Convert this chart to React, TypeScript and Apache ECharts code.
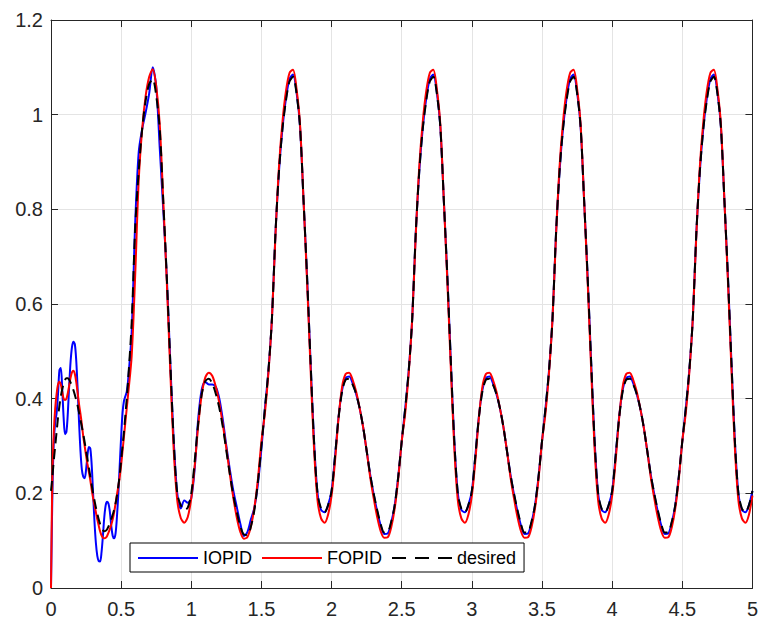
import React, { useEffect, useRef } from "react";
import * as echarts from "echarts";

// Sample grid: fine for the start-up transient, coarser afterwards
const fineTime = Array.from({ length: 56 }, (_, i) => i / 100); // 0 .. 0.55
const coarseTime = Array.from({ length: 178 }, (_, i) => (575 + i * 25) / 1000); // 0.575 .. 5
const time = [...fineTime, ...coarseTime];

const xTicks = [0, 0.5, 1, 1.5, 2, 2.5, 3, 3.5, 4, 4.5, 5];
const yTicks = [0, 0.2, 0.4, 0.6, 0.8, 1, 1.2];
const seriesNames = ["IOPID", "FOPID", "desired"];

// ---- IOPID (blue) ----
const iopidStart = [
  0, 0.2, 0.31, 0.35, 0.37, 0.41, 0.46, 0.465, 0.42, 0.36,
  0.325, 0.33, 0.37, 0.43, 0.48, 0.51, 0.52, 0.515, 0.48, 0.42,
  0.35, 0.29, 0.25, 0.235, 0.232, 0.25, 0.28, 0.298, 0.295, 0.26,
  0.2, 0.14, 0.095, 0.068, 0.057, 0.056, 0.075, 0.11, 0.15, 0.175,
  0.182, 0.178, 0.16, 0.13, 0.11, 0.105, 0.115, 0.15, 0.2, 0.26,
  0.32, 0.37, 0.395, 0.405, 0.415, 0.44,
];
const iopidCycle1 = [
  0.54, 0.77, 0.92, 0.97, 1.005, 1.045, 1.1, 1.06, 0.93, 0.8,
  0.66, 0.48, 0.31, 0.2, 0.168, 0.185, 0.18, 0.19, 0.255, 0.36,
  0.42, 0.435, 0.43, 0.43, 0.425, 0.4, 0.355, 0.3, 0.25, 0.205,
  0.17, 0.135, 0.11, 0.118, 0.145, 0.17, 0.22, 0.295,
];
const iopidCycle2 = [
  0.38, 0.46, 0.57, 0.75, 0.88, 0.972, 1.035, 1.075, 1.085, 1.048,
  0.975, 0.82, 0.66, 0.48, 0.31, 0.2, 0.165, 0.16, 0.175, 0.205,
  0.28, 0.362, 0.418, 0.443, 0.447, 0.433, 0.41, 0.38, 0.34, 0.29,
  0.24, 0.198, 0.162, 0.132, 0.114, 0.115, 0.138, 0.175, 0.235, 0.31,
];
const iopidCycle3 = [
  0.38, 0.46, 0.57, 0.75, 0.88, 0.972, 1.035, 1.075, 1.085, 1.048,
  0.975, 0.82, 0.66, 0.48, 0.31, 0.2, 0.165, 0.16, 0.175, 0.205,
  0.28, 0.362, 0.418, 0.443, 0.447, 0.433, 0.41, 0.38, 0.34, 0.29,
  0.24, 0.198, 0.162, 0.132, 0.114, 0.115, 0.138, 0.175, 0.235, 0.31,
];
const iopidCycle4 = [
  0.38, 0.46, 0.57, 0.75, 0.88, 0.972, 1.035, 1.075, 1.085, 1.048,
  0.975, 0.82, 0.66, 0.48, 0.31, 0.2, 0.165, 0.16, 0.175, 0.205,
  0.28, 0.362, 0.418, 0.443, 0.447, 0.433, 0.41, 0.38, 0.34, 0.29,
  0.24, 0.198, 0.162, 0.132, 0.114, 0.115, 0.138, 0.175, 0.235, 0.31,
];
const iopidEnd = [
  0.38, 0.46, 0.57, 0.75, 0.88, 0.972, 1.035, 1.075, 1.085, 1.048,
  0.975, 0.82, 0.66, 0.48, 0.31, 0.2, 0.165, 0.16, 0.175, 0.205,
];

// ---- FOPID (red) ----
const fopidStart = [
  0, 0.24, 0.33, 0.38, 0.41, 0.43, 0.436, 0.43, 0.415, 0.4,
  0.397, 0.4, 0.412, 0.428, 0.445, 0.456, 0.459, 0.452, 0.435, 0.412,
  0.388, 0.368, 0.345, 0.32, 0.3, 0.28, 0.262, 0.245, 0.228, 0.208,
  0.19, 0.175, 0.16, 0.145, 0.132, 0.12, 0.111, 0.106, 0.105, 0.106,
  0.11, 0.117, 0.125, 0.134, 0.145, 0.16, 0.178, 0.197, 0.215, 0.235,
  0.26, 0.29, 0.32, 0.35, 0.38, 0.41,
];
const fopidCycle1 = [
  0.49, 0.66, 0.86, 0.97, 1.04, 1.08, 1.096, 1.06, 0.98, 0.82,
  0.65, 0.46, 0.29, 0.185, 0.148, 0.138, 0.15, 0.19, 0.26, 0.345,
  0.41, 0.445, 0.455, 0.448, 0.425, 0.39, 0.345, 0.295, 0.24, 0.19,
  0.148, 0.118, 0.104, 0.108, 0.13, 0.17, 0.23, 0.31,
];
const fopidCycle2 = [
  0.37, 0.455, 0.57, 0.745, 0.89, 0.985, 1.05, 1.088, 1.095, 1.055,
  0.98, 0.82, 0.65, 0.465, 0.295, 0.185, 0.147, 0.138, 0.155, 0.195,
  0.27, 0.36, 0.425, 0.452, 0.455, 0.44, 0.415, 0.38, 0.34, 0.29,
  0.235, 0.19, 0.15, 0.12, 0.106, 0.107, 0.128, 0.168, 0.23, 0.31,
];
const fopidCycle3 = [
  0.37, 0.455, 0.57, 0.745, 0.89, 0.985, 1.05, 1.088, 1.095, 1.055,
  0.98, 0.82, 0.65, 0.465, 0.295, 0.185, 0.147, 0.138, 0.155, 0.195,
  0.27, 0.36, 0.425, 0.452, 0.455, 0.44, 0.415, 0.38, 0.34, 0.29,
  0.235, 0.19, 0.15, 0.12, 0.106, 0.107, 0.128, 0.168, 0.23, 0.31,
];
const fopidCycle4 = [
  0.37, 0.455, 0.57, 0.745, 0.89, 0.985, 1.05, 1.088, 1.095, 1.055,
  0.98, 0.82, 0.65, 0.465, 0.295, 0.185, 0.147, 0.138, 0.155, 0.195,
  0.27, 0.36, 0.425, 0.452, 0.455, 0.44, 0.415, 0.38, 0.34, 0.29,
  0.235, 0.19, 0.15, 0.12, 0.106, 0.107, 0.128, 0.168, 0.23, 0.31,
];
const fopidEnd = [
  0.37, 0.455, 0.57, 0.745, 0.89, 0.985, 1.05, 1.088, 1.095, 1.055,
  0.98, 0.82, 0.65, 0.465, 0.295, 0.185, 0.147, 0.138, 0.155, 0.195,
];

// ---- desired (black dashed) ----
const desiredStart = [
  0.205, 0.235, 0.27, 0.3, 0.33, 0.36, 0.385, 0.405, 0.42, 0.432,
  0.44, 0.443, 0.443, 0.44, 0.434, 0.426, 0.418, 0.408, 0.397, 0.385,
  0.37, 0.355, 0.34, 0.325, 0.308, 0.29, 0.272, 0.254, 0.236, 0.218,
  0.2, 0.185, 0.17, 0.157, 0.145, 0.135, 0.127, 0.122, 0.12, 0.121,
  0.124, 0.13, 0.138, 0.146, 0.155, 0.165, 0.178, 0.195, 0.215, 0.24,
  0.27, 0.3, 0.33, 0.365, 0.4, 0.44,
];
const desiredCycle1 = [
  0.56, 0.76, 0.88, 0.97, 1.03, 1.065, 1.075, 1.04, 0.97, 0.82,
  0.66, 0.48, 0.31, 0.2, 0.175, 0.165, 0.17, 0.2, 0.27, 0.35,
  0.41, 0.437, 0.442, 0.432, 0.41, 0.38, 0.34, 0.29, 0.24, 0.195,
  0.16, 0.13, 0.113, 0.112, 0.13, 0.165, 0.225, 0.3,
];
const desiredCycle2 = [
  0.38, 0.46, 0.57, 0.75, 0.88, 0.97, 1.03, 1.07, 1.08, 1.045,
  0.975, 0.82, 0.66, 0.48, 0.31, 0.2, 0.168, 0.16, 0.175, 0.205,
  0.28, 0.36, 0.415, 0.44, 0.442, 0.43, 0.41, 0.38, 0.34, 0.29,
  0.24, 0.2, 0.165, 0.135, 0.117, 0.118, 0.14, 0.175, 0.235, 0.31,
];
const desiredCycle3 = [
  0.38, 0.46, 0.57, 0.75, 0.88, 0.97, 1.03, 1.07, 1.08, 1.045,
  0.975, 0.82, 0.66, 0.48, 0.31, 0.2, 0.168, 0.16, 0.175, 0.205,
  0.28, 0.36, 0.415, 0.44, 0.442, 0.43, 0.41, 0.38, 0.34, 0.29,
  0.24, 0.2, 0.165, 0.135, 0.117, 0.118, 0.14, 0.175, 0.235, 0.31,
];
const desiredCycle4 = [
  0.38, 0.46, 0.57, 0.75, 0.88, 0.97, 1.03, 1.07, 1.08, 1.045,
  0.975, 0.82, 0.66, 0.48, 0.31, 0.2, 0.168, 0.16, 0.175, 0.205,
  0.28, 0.36, 0.415, 0.44, 0.442, 0.43, 0.41, 0.38, 0.34, 0.29,
  0.24, 0.2, 0.165, 0.135, 0.117, 0.118, 0.14, 0.175, 0.235, 0.31,
];
const desiredEnd = [
  0.38, 0.46, 0.57, 0.75, 0.88, 0.97, 1.03, 1.07, 1.08, 1.045,
  0.975, 0.82, 0.66, 0.48, 0.31, 0.2, 0.168, 0.16, 0.175, 0.205,
];

const iopid = [...iopidStart, ...iopidCycle1, ...iopidCycle2, ...iopidCycle3, ...iopidCycle4, ...iopidEnd];
const fopid = [...fopidStart, ...fopidCycle1, ...fopidCycle2, ...fopidCycle3, ...fopidCycle4, ...fopidEnd];
const desired = [...desiredStart, ...desiredCycle1, ...desiredCycle2, ...desiredCycle3, ...desiredCycle4, ...desiredEnd];

const FONT = "'Liberation Sans', Arial, Helvetica, sans-serif";
const AXIS = "#262626";

export default function App() {
  const ref = useRef<HTMLDivElement>(null);

  useEffect(() => {
    if (!ref.current) return;
    const chart = echarts.init(ref.current, null, { renderer: "svg" });
    const pairs = (vals: number[]) => time.map((t, i) => [t, vals[i]]);

    const xBase = {
      type: "value" as const,
      min: xTicks[0],
      max: xTicks[xTicks.length - 1],
      interval: 0.5,
      axisLine: { show: true, onZero: false, lineStyle: { color: AXIS, width: 1 } },
      axisTick: { show: true, inside: true, length: 7, lineStyle: { color: AXIS, width: 1 } },
    };
    const yBase = {
      type: "value" as const,
      min: yTicks[0],
      max: yTicks[yTicks.length - 1],
      interval: 0.2,
      axisLine: { show: true, onZero: false, lineStyle: { color: AXIS, width: 1 } },
      axisTick: { show: true, inside: true, length: 7, lineStyle: { color: AXIS, width: 1 } },
    };

    chart.setOption({
      animation: false,
      backgroundColor: "#ffffff",
      grid: { left: 51, right: 6, top: 20, bottom: 35, containLabel: false },
      xAxis: [
        {
          ...xBase,
          position: "bottom",
          axisLabel: { color: AXIS, fontSize: 20, fontFamily: FONT, margin: 11 },
          splitLine: { show: true, lineStyle: { color: "#e4e4e4", width: 1 } },
        },
        {
          ...xBase,
          position: "top",
          axisLabel: { show: false },
          splitLine: { show: false },
        },
      ],
      yAxis: [
        {
          ...yBase,
          position: "left",
          axisLabel: { color: AXIS, fontSize: 20, fontFamily: FONT, margin: 8 },
          splitLine: { show: true, lineStyle: { color: "#e4e4e4", width: 1 } },
        },
        {
          ...yBase,
          position: "right",
          axisLabel: { show: false },
          splitLine: { show: false },
        },
      ],
      legend: {
        data: [
          { name: seriesNames[0] },
          { name: seriesNames[1] },
          { name: seriesNames[2], lineStyle: { type: [14, 9] } },
        ],
        left: 130,
        top: 543,
        orient: "horizontal",
        itemWidth: 60,
        itemHeight: 14,
        itemGap: 9,
        padding: [6, 8, 5, 7],
        borderColor: "#000",
        borderWidth: 1,
        backgroundColor: "#ffffff",
        borderRadius: 0,
        itemStyle: { opacity: 0, borderWidth: 0 },
        textStyle: { fontSize: 18, fontFamily: FONT, color: "#000" },
      },
      series: [
        {
          name: seriesNames[0],
          type: "line",
          data: pairs(iopid),
          symbol: "none",
          smooth: 0.3,
          lineStyle: { color: "#0000ff", width: 2 },
          itemStyle: { color: "#0000ff" },
          z: 2,
        },
        {
          name: seriesNames[1],
          type: "line",
          data: pairs(fopid),
          symbol: "none",
          smooth: 0.3,
          lineStyle: { color: "#ff0000", width: 2 },
          itemStyle: { color: "#ff0000" },
          z: 3,
        },
        {
          name: seriesNames[2],
          type: "line",
          data: pairs(desired),
          symbol: "none",
          smooth: 0.3,
          lineStyle: { color: "#000000", width: 2, type: [10, 6] },
          itemStyle: { color: "#000000" },
          z: 4,
        },
      ],
    });

    return () => chart.dispose();
  }, []);

  return (
    <div
      ref={ref}
      style={{ position: "fixed", left: 0, top: 0, width: 761, height: 623, background: "#fff" }}
    />
  );
}
